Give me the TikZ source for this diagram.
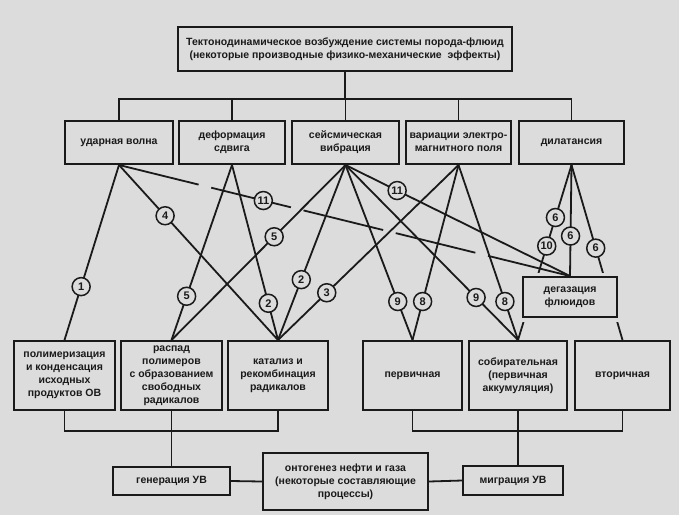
\documentclass[tikz,border=0pt]{standalone}
\usepackage{fontspec}
\setmainfont{Liberation Sans}
\definecolor{paper}{HTML}{DCDCDC}
\definecolor{ink}{HTML}{1A1A1A}
\begin{document}
\begin{tikzpicture}[x=1pt, y=-1pt, line width=1.8pt, color=ink,
	blok/.style={draw, fill=paper, align=center, inner sep=0pt, line width=2pt,
		font=\bfseries\fontsize{10.5}{13}\selectfont},
	num/.style={draw, solid, circle, fill=paper, inner sep=0pt, minimum size=18pt,
		line width=1.5pt, font=\bfseries\fontsize{11}{11}\selectfont}]
	\fill[paper] (0,0) rectangle (679,515);
	\node[blok, minimum width=334pt, minimum height=44pt] (top) at (345,49) {Тектонодинамическое возбуждение системы порода-флюид\\(некоторые производные физико-механические \ эффекты)};
	\node[blok, minimum width=108pt, minimum height=43pt] (udar) at (119,142.5) {ударная волна};
	\node[blok, minimum width=106pt, minimum height=43pt] (deform) at (232,142.5) {деформация\\сдвига};
	\node[blok, minimum width=107pt, minimum height=43pt] (seism) at (345.5,142.5) {сейсмическая\\вибрация};
	\node[blok, minimum width=105pt, minimum height=43pt] (varia) at (458.5,142.5) {вариации электро-\\магнитного поля};
	\node[blok, minimum width=105pt, minimum height=43pt] (dilat) at (571.5,142.5) {дилатансия};
	\node[blok, minimum width=101pt, minimum height=69pt] (polim) at (64.5,375.5) {полимеризация\\и конденсация\\исходных\\продуктов ОВ};
	\node[blok, minimum width=101pt, minimum height=69pt] (raspad) at (171.5,375.5) {распад\\полимеров\\с образованием\\свободных\\радикалов};
	\node[blok, minimum width=100pt, minimum height=69pt] (katal) at (278,375.5) {катализ и\\рекомбинация\\радикалов};
	\node[blok, minimum width=99pt, minimum height=69pt] (perv) at (412.5,375.5) {первичная};
	\node[blok, minimum width=98pt, minimum height=69pt] (sobir) at (518,375.5) {собирательная\\(первичная\\аккумуляция)};
	\node[blok, minimum width=95pt, minimum height=69pt] (vtor) at (622.5,375.5) {вторичная};
	\node[blok, minimum width=117pt, minimum height=28pt] (genera) at (171.5,481) {генерация УВ};
	\node[blok, minimum width=165pt, minimum height=57pt] (onto) at (345.5,481.5) {онтогенез нефти и газа\\(некоторые составляющие\\процессы)};
	\node[blok, minimum width=100pt, minimum height=29pt] (migr) at (513,480.5) {миграция УВ};

	\coordinate (b1) at (345,99);
	\draw (top.south) -- (b1);
	\foreach \n in {udar,deform,seism,varia,dilat}
		\draw (\n.north) |- (b1);
	\coordinate (b2) at (171.5,431);
	\draw (raspad.south) -- (genera.north);
	\foreach \n in {polim,katal}
		\draw (\n.south) |- (b2);
	\coordinate (b3) at (518,431);
	\draw (sobir.south) -- (sobir.south |- migr.north);
	\foreach \n in {perv,vtor}
		\draw (\n.south) |- (b3);
	\draw (genera.east) -- (onto.west);
	\draw (onto.east) -- (migr.west);

	\draw (dilat.south) -- node[num, pos=.30] (d6a) {6} node[num, pos=.463] (d10) {10} (sobir.north);
	\draw (dilat.south) -- node[num, pos=.475] (d6c) {6} (vtor.north);
	\node[blok, minimum width=94pt, minimum height=40pt,
		preaction={draw=paper, line width=9pt}] (degaz) at (570,297) {дегазация\\флюидов};
	\draw (dilat.south) -- node[num, pos=.64] (d6b) {6} (degaz.north);

	\draw (udar.south) -- node[num, pos=.695] (u1) {1} (polim.north);
	\draw (udar.south) -- node[num, pos=.29] (u4) {4} (katal.north);
	\draw[dash pattern=on 82pt off 13pt] (udar.south) -- node[num, pos=.32] (u11) {11} (degaz.north);
	\draw (deform.south) -- node[num, pos=.75] (f5) {5} (raspad.north);
	\draw (deform.south) -- node[num, pos=.79] (f2) {2} (katal.north);
	\draw (seism.south) -- node[num, pos=.41] (s5) {5} (raspad.north);
	\draw (seism.south) -- node[num, pos=.655] (s2) {2} (katal.north);
	\draw (seism.south) -- node[num, pos=.78] (s9a) {9} (perv.north);
	\draw (seism.south) -- node[num, pos=.757] (s9b) {9} (sobir.north);
	\draw (seism.south) -- node[num, pos=.23] (s11) {11} (degaz.north);
	\draw (varia.south) -- node[num, pos=.73] (v3) {3} (katal.north);
	\draw (varia.south) -- node[num, pos=.78] (v8a) {8} (perv.north);
	\draw (varia.south) -- node[num, pos=.78] (v8b) {8} (sobir.north);
\end{tikzpicture}
\end{document}
